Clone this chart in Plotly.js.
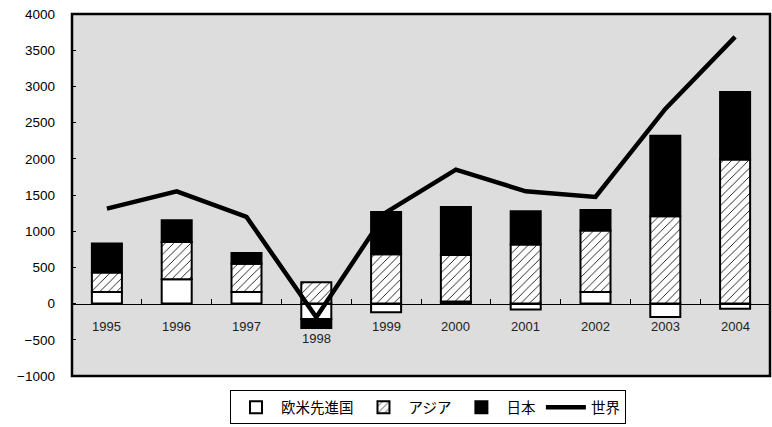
<!DOCTYPE html>
<html>
<head>
<meta charset="utf-8">
<script src="https://cdn.plot.ly/plotly-3.0.1.min.js"></script>
<style>html,body{margin:0;padding:0;background:#fff}#chart{width:772px;height:427px}</style>
</head>
<body>
<div id="chart"></div>
<script>
const years = ['1995','1996','1997','1998','1999','2000','2001','2002','2003','2004'];
const europeUS = [160, 335, 160, -211, -120, 30, -83, 160, -184, -70];
const asia = [270, 515, 390, 294, 680, 640, 815, 850, 1206, 1990];
const japan = [400, 300, 150, -125, 586, 665, 460, 284, 1114, 934];
const world = [1312, 1551, 1197, -190, 1261, 1851, 1551, 1473, 2689, 3684];
const yTicks = [-1000, -500, 0, 500, 1000, 1500, 2000, 2500, 3000, 3500, 4000];
const names = ['欧米先進国', 'アジア', '日本', '世界'];

const barLine = {color: '#000', width: 2};
const traces = [
  {type: 'bar', name: names[0], x: years, y: europeUS, width: 0.43,
   marker: {color: '#fff', line: barLine}},
  {type: 'bar', name: names[1], x: years, y: asia, width: 0.43,
   marker: {color: '#fff', line: barLine,
            pattern: {shape: '/', fgcolor: '#000', bgcolor: '#fff', size: 6, solidity: 0.14}}},
  {type: 'bar', name: names[2], x: years, y: japan, width: 0.43,
   marker: {color: '#000', line: barLine}},
  {type: 'scatter', mode: 'lines', name: names[3], x: years, y: world,
   line: {color: '#000', width: 4.5}},
  // invisible helper on the zero-line axis (for the category boundary ticks)
  {type: 'scatter', mode: 'markers', x: years, y: years.map(() => 0), xaxis: 'x2',
   marker: {opacity: 0}, showlegend: false, hoverinfo: 'skip'}
];

const annotations = years.map((yr, i) => {
  const neg = Math.min(0, europeUS[i]) + Math.min(0, japan[i]);
  const below = neg < -300;
  return {x: i, y: below ? neg : 0, xref: 'x', yref: 'y', text: yr, showarrow: false,
          yanchor: 'top', yshift: below ? -1 : -13,
          font: {family: 'Liberation Sans, Arial, sans-serif', size: 13, color: '#222'}};
});

const layout = {
  width: 772, height: 427,
  margin: {l: 72, r: 2, t: 14, b: 51},
  paper_bgcolor: '#fff', plot_bgcolor: '#dddddd',
  barmode: 'relative',
  showlegend: true,
  legend: {orientation: 'h', x: 0.51, xanchor: 'center', xref: 'paper',
           y: 0.006, yanchor: 'bottom', yref: 'container',
           bordercolor: '#000', borderwidth: 1, bgcolor: '#fff',
           font: {family: 'Noto Sans CJK JP, sans-serif', size: 14.5, color: '#000'},
           itemwidth: 40, traceorder: 'normal'},
  xaxis: {type: 'category', range: [-0.5, 9.5], showticklabels: false, ticks: '',
          showgrid: false, zeroline: false, showline: false},
  xaxis2: {type: 'category', range: [-0.5, 9.5], overlaying: 'x', anchor: 'free', position: 0.2,
           showline: true, linecolor: '#000', linewidth: 1,
           ticks: 'inside', ticklen: 5, tickcolor: '#000', tickson: 'boundaries',
           showticklabels: false, showgrid: false, zeroline: false},
  yaxis: {range: [-1000, 4000], tickvals: yTicks, ticks: 'inside', ticklen: 4,
          tickcolor: '#000', showgrid: false, zeroline: false, showline: false,
          ticklabelstandoff: 16, automargin: false,
          tickfont: {family: 'Liberation Sans, Arial, sans-serif', size: 13.5, color: '#000'}},
  shapes: [{type: 'rect', xref: 'paper', yref: 'paper', x0: 0, x1: 1, y0: 0, y1: 1,
            line: {color: '#000', width: 2.5}, layer: 'above'}],
  annotations: annotations
};

Plotly.newPlot('chart', traces, layout, {staticPlot: true});
</script>
</body>
</html>
